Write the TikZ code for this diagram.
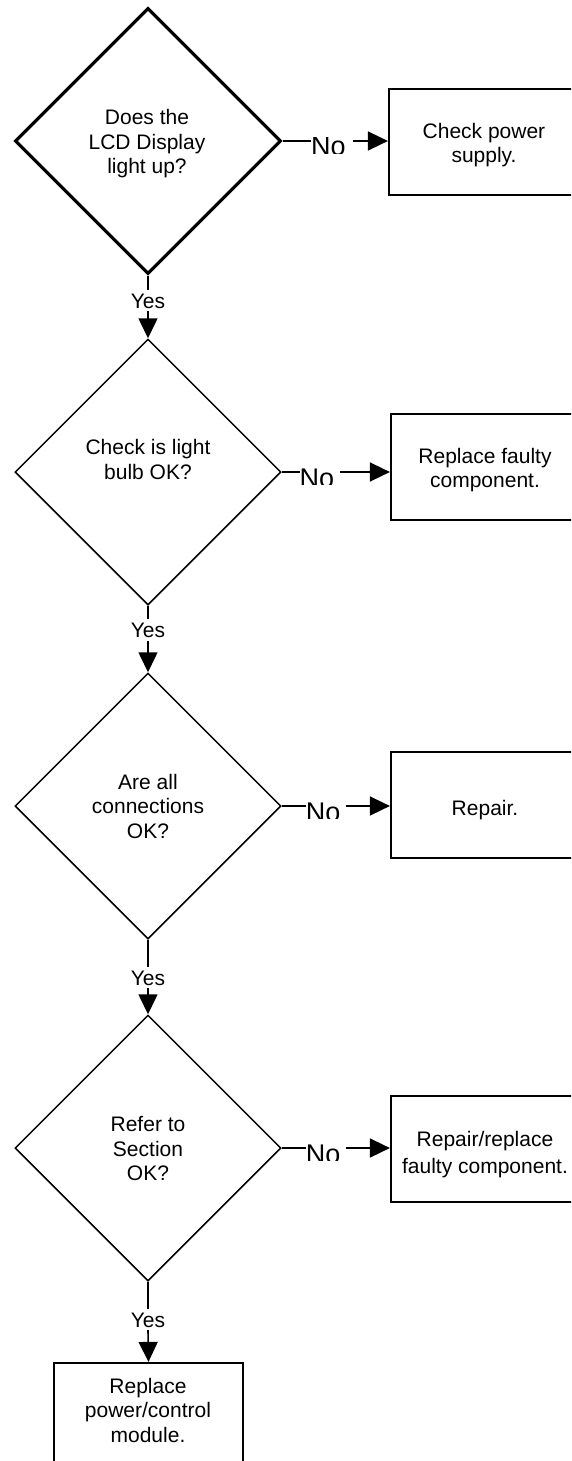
\documentclass[tikz,border=0pt]{standalone}
\usepackage{fontspec}
\setmainfont{Liberation Sans}
\usetikzlibrary{shapes.geometric,arrows.meta,calc}

\begin{document}
\begin{tikzpicture}[x=1pt,y=-1pt,
  decision/.style={diamond,draw,line width=1.5pt,aspect=1,
    minimum width=266pt,minimum height=266pt,inner sep=0pt},
  action/.style={rectangle,draw,line width=2.2pt,
    minimum width=189pt,minimum height=106pt,inner sep=0pt},
  txt/.style={align=center,inner sep=0pt,
    font=\fontsize{21}{24.5}\selectfont,
    execute at begin node=\rule[-5pt]{0pt}{25pt},
    execute at end node=\rule[-5pt]{0pt}{25pt}},
  yeslab/.style={inner xsep=0pt,inner ysep=3pt,text height=15pt,
    text depth=0pt,font=\fontsize{21}{24}\selectfont},
  nolab/.style={inner sep=0pt,anchor=base west,font=\fontsize{27}{27}\selectfont},
  conn/.style={line width=1.6pt},
  arr/.style={line width=1.6pt,-{Triangle[length=20pt,width=19pt]}}
]
\useasboundingbox (0,0) rectangle (571,1461);
\clip (0,0) rectangle (571,1461);

% decisions
\node[decision,line width=3.2pt] (d1) at (148,141) {};
\node[decision] (d2) at (148,472) {};
\node[decision] (d3) at (148,806) {};
\node[decision] (d4) at (148,1148) {};

\node[txt] (t1) at (147,144) {Does the\\LCD Display\\light up?};
\node[txt] (t2) at (148,462) {Check is light\\bulb OK?};
\node[txt] (t3) at (148,808.5) {Are all\\connections\\OK?};
\node[txt] (t4) at (148,1151) {Refer to\\Section\\OK?};

% actions
\node[action] (b1) at (483.5,142) {};
\node[action] (b2) at (485.5,467) {};
\node[action] (b3) at (485.5,805) {};
\node[action] (b4) at (485.5,1149) {};
\node[action] (b5) at (148.5,1416) {};

\node[txt] (bt1) at (484,145.5) {Check power\\supply.};
\node[txt] (bt2) at (485,470.5) {Replace faulty\\component.};
\node[txt] (bt3) at (485,808) {Repair.};
\node[txt,font=\fontsize{21}{27}\selectfont] (bt4) at (485,1154.5) {Repair/replace\\faulty component.};
\node[txt] (bt5) at (148,1412.5) {Replace\\power/control\\module.};

% "No" labels, set in a clipped text frame
\begin{scope}
  \clip (295,137.5) rectangle (365,153);
  \node[nolab] (no1) at (311,156) {No};
\end{scope}
\begin{scope}
  \clip (285,468.5) rectangle (355,484);
  \node[nolab] (no2) at (299.5,487) {No};
\end{scope}
\begin{scope}
  \clip (290,802.5) rectangle (360,818);
  \node[nolab] (no3) at (305.7,821) {No};
\end{scope}
\begin{scope}
  \clip (290,1144.5) rectangle (360,1160);
  \node[nolab] (no4) at (305.7,1163) {No};
\end{scope}

% "Yes" labels
\node[yeslab] (y1) at (148,300.5) {Yes};
\node[yeslab] (y2) at (148,630) {Yes};
\node[yeslab] (y3) at (148,977.5) {Yes};
\node[yeslab] (y4) at (148,1319.5) {Yes};

% No branches
\draw[conn] (d1.east) -- (d1.east -| no1.west);
\draw[arr] ($(d1.east -| no1.east)+(7,0)$) -- (d1.east -| b1.west);
\draw[conn] (d2.east) -- (d2.east -| no2.west);
\draw[arr] ($(d2.east -| no2.east)+(6,0)$) -- (d2.east -| b2.west);
\draw[conn] (d3.east) -- (d3.east -| no3.west);
\draw[arr] ($(d3.east -| no3.east)+(5,0)$) -- (d3.east -| b3.west);
\draw[conn] (d4.east) -- (d4.east -| no4.west);
\draw[arr] ($(d4.east -| no4.east)+(5,0)$) -- (d4.east -| b4.west);

% Yes branches
\draw[conn] (d1.south) -- (y1.north);
\draw[arr] (y1.south) -- (d2.north);
\draw[conn] (d2.south) -- (y2.north);
\draw[arr] (y2.south) -- (d3.north);
\draw[conn] (d3.south) -- (y3.north);
\draw[arr] (y3.south) -- (d4.north);
\draw[conn] (d4.south) -- (y4.north);
\draw[arr] (y4.south) -- (b5.north);
\end{tikzpicture}
\end{document}
